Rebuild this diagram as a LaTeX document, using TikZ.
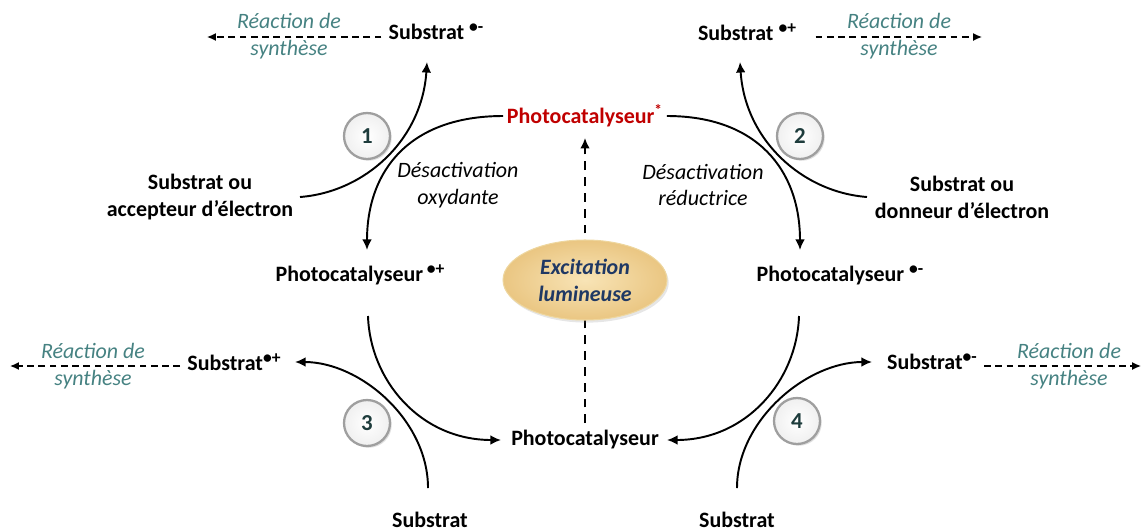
\documentclass[tikz,border=0pt]{standalone}
\usepackage{fontspec}
\setmainfont{Carlito}
\usetikzlibrary{arrows.meta,shapes.geometric,shadows}
\definecolor{tealtxt}{RGB}{70,130,130}
\definecolor{redpc}{RGB}{192,0,0}
\definecolor{navytxt}{RGB}{31,56,100}
\definecolor{numc}{RGB}{30,60,60}
\definecolor{goldin}{RGB}{248,228,182}
\definecolor{goldout}{RGB}{234,198,130}
\definecolor{goldline}{RGB}{238,214,158}
\newcommand\radsup[1]{\raisebox{0.65ex}{\fontsize{10}{10}\selectfont #1}}
\tikzset{
  lbl/.style={font=\fontsize{12.5}{15.3}\selectfont\bfseries, inner sep=2pt, align=center},
  rxn/.style={font=\fontsize{12.5}{15.3}\selectfont\itshape, text=tealtxt, align=center, inner sep=1pt},
  des/.style={font=\fontsize{12.5}{15.3}\selectfont\itshape, align=center, inner sep=1pt},
  curvearr/.style={line width=1.1pt, -{Latex[length=6pt,width=5.5pt]}},
  rxnarr/.style={line width=0.8pt, dash pattern=on 3.8pt off 2.6pt, -{Latex[length=5pt,width=4.5pt]}},
  vdash/.style={line width=1.1pt, dash pattern=on 5pt off 4pt, -{Latex[length=6pt,width=5.5pt]}},
  numcirc/.style={circle, draw=gray!75, line width=1.3pt, minimum size=0.92cm, inner color=white, outer color=gray!12,
    drop shadow={opacity=0.25, shadow xshift=1pt, shadow yshift=-1pt},
    font=\fontsize{13}{15}\selectfont\bfseries, text=numc},
  excit/.style={ellipse, minimum width=3.28cm, minimum height=1.6cm, inner color=goldin, outer color=goldout, draw=goldline, line width=0.6pt,
    drop shadow={opacity=0.2, shadow xshift=1pt, shadow yshift=-1.5pt},
    font=\fontsize{12.5}{15.3}\selectfont\bfseries\itshape, text=navytxt, align=center}
}
\begin{document}
\begin{tikzpicture}[x=0.02cm,y=-0.02cm]
\useasboundingbox (0,0) rectangle (1142,531);

% main labels
\node[lbl, text=redpc] (pcstar) at (585,116) {Photocatalyseur\textsuperscript{*}};
\node[lbl] (pcplus) at (360,275) {Photocatalyseur\,\radsup{•+}};
\node[lbl] (pcminus) at (840,275) {Photocatalyseur \radsup{•-}};
\node[lbl] (pc) at (585,440) {Photocatalyseur};
\node[lbl] (subTL) at (436,32) {Substrat \radsup{•-}};
\node[lbl] (subTR) at (747,32) {Substrat \radsup{•+}};
\node[lbl] (subML) at (234,362) {Substrat\radsup{•+}};
\node[lbl] (subMR) at (932,362) {Substrat\radsup{•-}};
\node[lbl] (acc) at (200,197) {Substrat ou\\accepteur d’électron};
\node[lbl] (don) at (962,197) {Substrat ou\\donneur d’électron};
\node[lbl] (subB1) at (430,520) {Substrat};
\node[lbl] (subB2) at (737,520) {Substrat};

\node[des] (desox) at (458,185) {Désactivation\\oxydante};
\node[des] (desred) at (703,185) {Désactivation\\réductrice};

% reaction labels
\node[rxn] (r1) at (289,36) {Réaction de\\synthèse};
\node[rxn] (r2) at (899,36) {Réaction de\\synthèse};
\node[rxn] (r3) at (93,366) {Réaction de\\synthèse};
\node[rxn] (r4) at (1069,366) {Réaction de\\synthèse};

\coordinate (r1end) at (207,37);
\coordinate (r2end) at (982,37);
\coordinate (r3end) at (10,366);
\coordinate (r4end) at (1141,366);

\draw[rxnarr] ([xshift=-2pt]subTL.west |- r1end) -- (r1end);
\draw[rxnarr] ([xshift=9pt]subTR.east |- r2end) -- (r2end);
\draw[rxnarr] ([xshift=-2pt]subML.west |- r3end) -- (r3end);
\draw[rxnarr] ([xshift=2pt]subMR.east |- r4end) -- (r4end);

% curve end points
\coordinate (c1a) at (367,250);
\coordinate (c1bs) at (300,197);
\coordinate (c1be) at (427,62);
\coordinate (c2a) at (800,250);
\coordinate (c2bs) at (867,197);
\coordinate (c2be) at (740,62);
\coordinate (c3as) at (368,316);
\coordinate (c3ae) at (501,440);
\coordinate (c3bs) at (428,488);
\coordinate (c3be) at (295,362);
\coordinate (c4as) at (799,316);
\coordinate (c4ae) at (667,440);
\coordinate (c4bs) at (737,488);
\coordinate (c4be) at (872,362);

% cycle 1
\draw[curvearr] (pcstar.west) .. controls (410,116) and (367,170) .. (c1a);
\draw[curvearr] (c1bs) .. controls (365,192) and (422,140) .. (c1be);
% cycle 2
\draw[curvearr] (pcstar.east) .. controls (757,116) and (800,170) .. (c2a);
\draw[curvearr] (c2bs) .. controls (802,192) and (745,140) .. (c2be);
% cycle 3
\draw[curvearr] (c3as) .. controls (370,380) and (420,440) .. (c3ae);
\draw[curvearr] (c3bs) .. controls (428,420) and (360,362) .. (c3be);
% cycle 4
\draw[curvearr] (c4as) .. controls (797,380) and (747,440) .. (c4ae);
\draw[curvearr] (c4bs) .. controls (737,420) and (807,362) .. (c4be);

% excitation
\draw[vdash] ([yshift=2pt]pc.north) -- ([yshift=-4pt]pcstar.south);
\node[excit] (exc) at (585,280) {Excitation\\lumineuse};

% numbers
\node[numcirc] (n1) at (367,136) {1};
\node[numcirc] (n2) at (800,136) {2};
\node[numcirc] (n3) at (367,423) {3};
\node[numcirc] (n4) at (797,421) {4};
\end{tikzpicture}
\end{document}
